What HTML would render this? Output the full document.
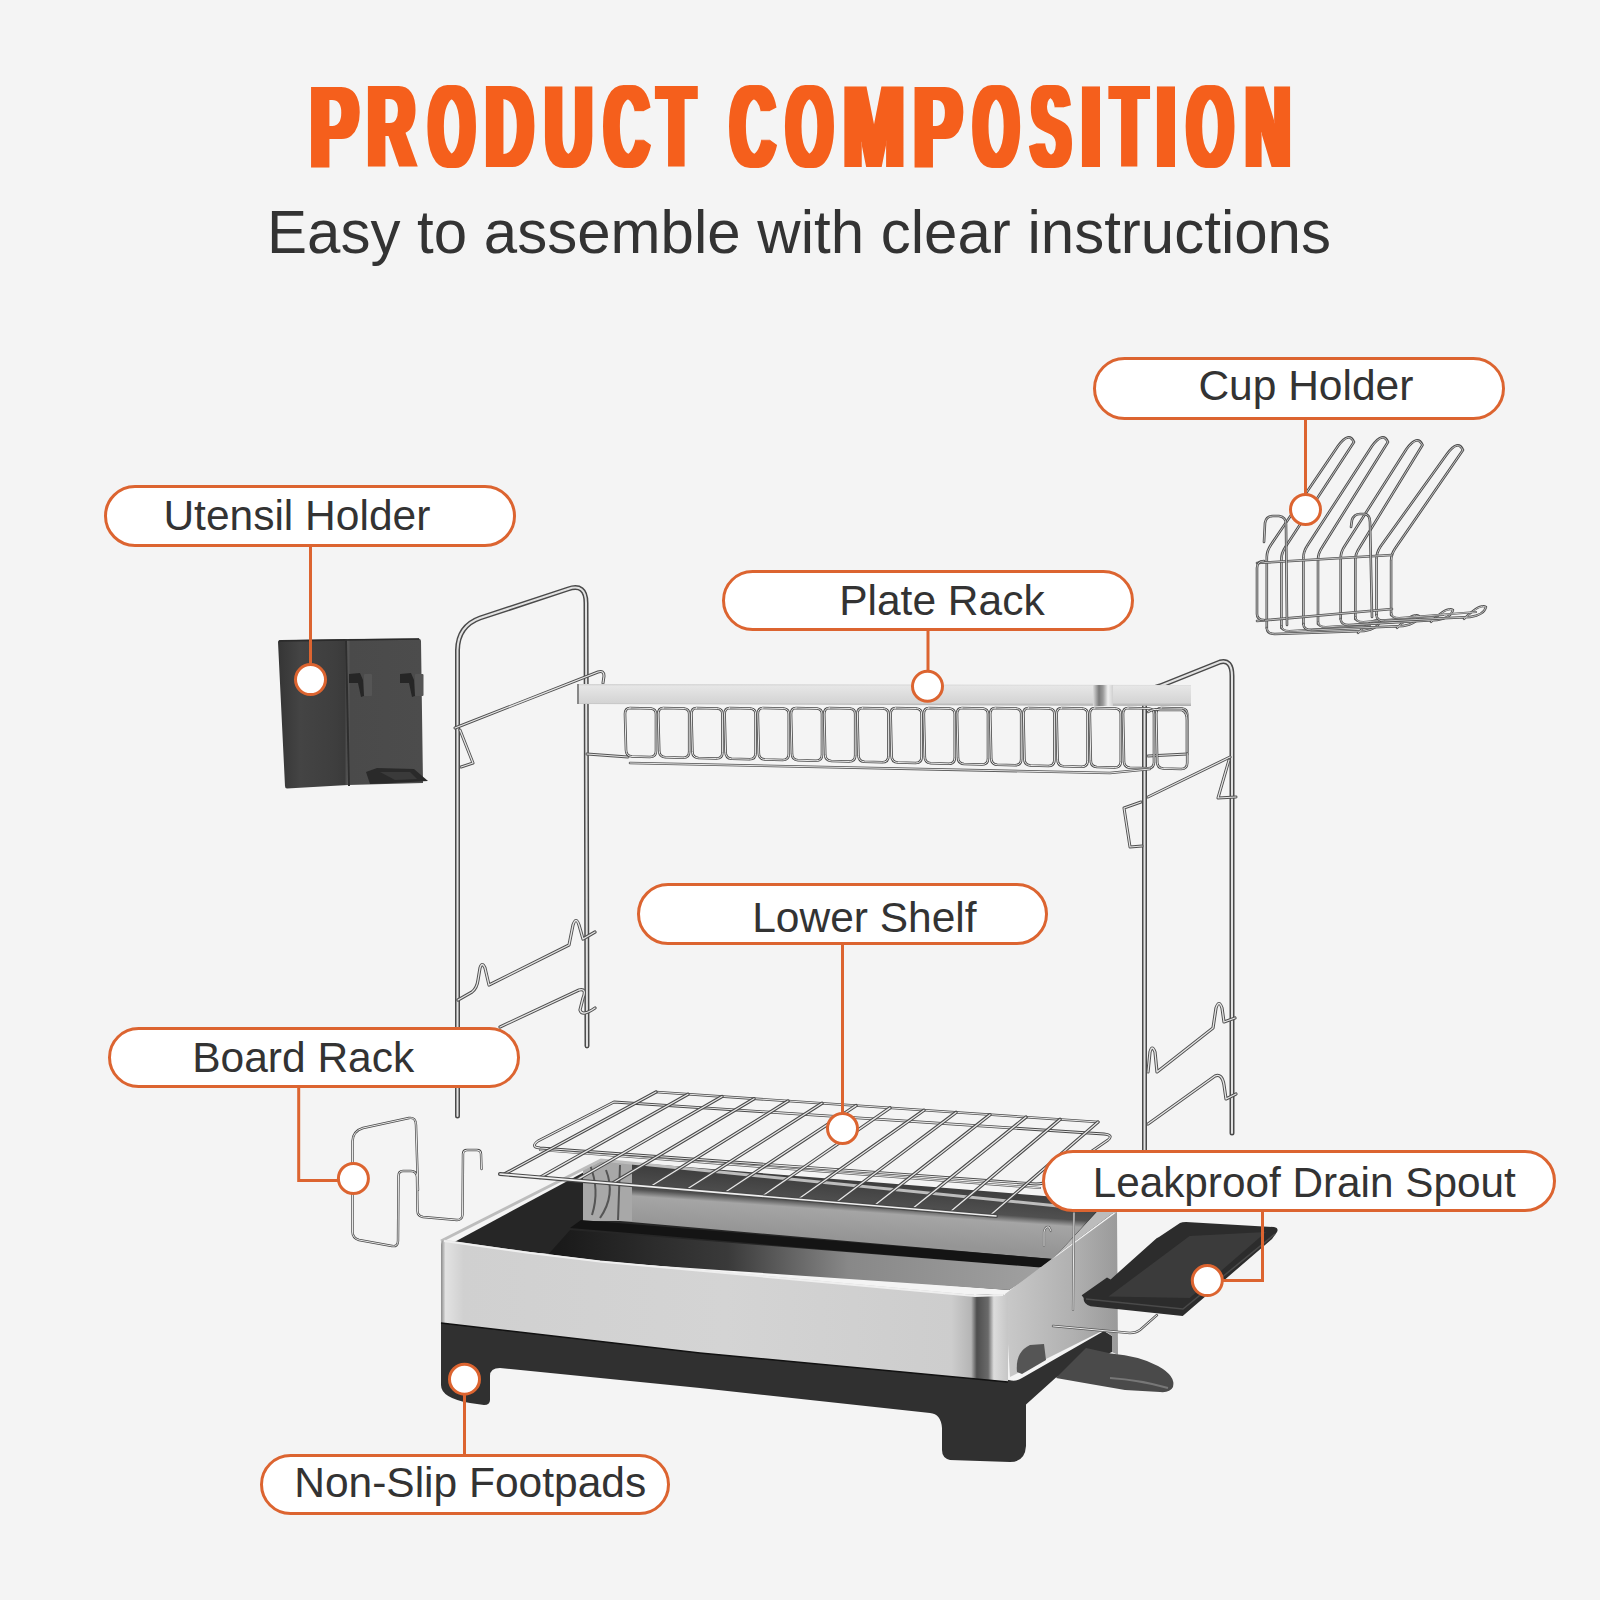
<!DOCTYPE html>
<html><head><meta charset="utf-8">
<style>
html,body{margin:0;padding:0;background:#f4f4f4;}
body{width:1600px;height:1600px;overflow:hidden;}
svg{display:block;}
text{font-family:"Liberation Sans",sans-serif;}
</style></head>
<body>
<svg width="1600" height="1600" viewBox="0 0 1600 1600">
<rect width="1600" height="1600" fill="#f4f4f4"/>
<filter id="dil" x="-20%" y="-5%" width="140%" height="110%"><feMorphology operator="dilate" radius="4 0.3"/></filter>
<g filter="url(#dil)" fill="#f55f1c" font-weight="bold" font-size="116.5">
<text transform="translate(310.19 166.8) scale(0.6168 1)">P</text>
<text transform="translate(367.58 166.8) scale(0.5661 1)">R</text>
<text transform="translate(429.11 166.8) scale(0.5009 1)">O</text>
<text transform="translate(485.58 166.8) scale(0.5666 1)">D</text>
<text transform="translate(545.07 166.8) scale(0.5622 1)">U</text>
<text transform="translate(604.49 166.8) scale(0.5258 1)">C</text>
<text transform="translate(658.35 166.8) scale(0.5080 1)">T</text>
<text transform="translate(730.49 166.8) scale(0.5258 1)">C</text>
<text transform="translate(786.58 166.8) scale(0.5071 1)">O</text>
<text transform="translate(843.50 166.8) scale(0.6272 1)">M</text>
<text transform="translate(913.87 166.8) scale(0.6183 1)">P</text>
<text transform="translate(973.64 166.8) scale(0.4947 1)">O</text>
<text transform="translate(1031.30 166.8) scale(0.5024 1)">S</text>
<text transform="translate(1081.31 166.8) scale(0.6003 1)">I</text>
<text transform="translate(1111.77 166.8) scale(0.4905 1)">T</text>
<text transform="translate(1156.31 166.8) scale(0.6003 1)">I</text>
<text transform="translate(1187.19 166.8) scale(0.5046 1)">O</text>
<text transform="translate(1245.45 166.8) scale(0.5323 1)">N</text>
</g>
<text x="267" y="253" font-size="61" fill="#333" textLength="1064" lengthAdjust="spacingAndGlyphs">Easy to assemble with clear instructions</text>
<g id="product">
<defs>
<linearGradient id="steelFront" x1="441" y1="0" x2="1008" y2="0" gradientUnits="userSpaceOnUse">
<stop offset="0" stop-color="#8a8a8a"/>
<stop offset="0.008" stop-color="#e2e2e2"/>
<stop offset="0.04" stop-color="#d0d0d0"/>
<stop offset="0.5" stop-color="#d4d4d4"/>
<stop offset="0.9" stop-color="#cdcdcd"/>
<stop offset="0.935" stop-color="#b5b5b5"/>
<stop offset="0.945" stop-color="#4e4e4e"/>
<stop offset="0.965" stop-color="#6a6a6a"/>
<stop offset="0.975" stop-color="#dcdcdc"/>
<stop offset="1" stop-color="#c6c6c6"/>
</linearGradient>
<linearGradient id="steelRight" x1="1008" y1="0" x2="1118" y2="0" gradientUnits="userSpaceOnUse">
<stop offset="0" stop-color="#c8c8c8"/>
<stop offset="0.6" stop-color="#b0b0b0"/>
<stop offset="1" stop-color="#9a9a9a"/>
</linearGradient>
<linearGradient id="backWall" x1="840" y1="1175" x2="835.6" y2="1238" gradientUnits="userSpaceOnUse">
<stop offset="0" stop-color="#3a3a3a"/>
<stop offset="0.45" stop-color="#505050"/>
<stop offset="0.56" stop-color="#a5a5a5"/>
<stop offset="1" stop-color="#959595"/>
</linearGradient>
<linearGradient id="plate" x1="560" y1="0" x2="1040" y2="0" gradientUnits="userSpaceOnUse">
<stop offset="0" stop-color="#1a1a1a"/>
<stop offset="0.35" stop-color="#3a3a3a"/>
<stop offset="0.6" stop-color="#888"/>
<stop offset="1" stop-color="#a0a0a0"/>
</linearGradient>
<linearGradient id="barG" x1="0" y1="684" x2="0" y2="706" gradientUnits="userSpaceOnUse">
<stop offset="0" stop-color="#cfcfcf"/>
<stop offset="0.1" stop-color="#e6e6e6"/>
<stop offset="0.85" stop-color="#d4d4d4"/>
<stop offset="1" stop-color="#a8a8a8"/>
</linearGradient>
<linearGradient id="utenG" x1="278" y1="0" x2="423" y2="0" gradientUnits="userSpaceOnUse">
<stop offset="0" stop-color="#353535"/>
<stop offset="0.15" stop-color="#444"/>
<stop offset="0.4" stop-color="#3e3e3e"/>
<stop offset="0.46" stop-color="#3a3a3a"/>
<stop offset="0.48" stop-color="#5a5a5a"/>
<stop offset="0.5" stop-color="#4a4a4a"/>
<stop offset="1" stop-color="#4c4c4c"/>
</linearGradient>
<linearGradient id="foldG" x1="1093" y1="0" x2="1113" y2="0" gradientUnits="userSpaceOnUse">
<stop offset="0" stop-color="#dcdcdc"/>
<stop offset="0.3" stop-color="#7a7a7a"/>
<stop offset="0.5" stop-color="#9a9a9a"/>
<stop offset="0.75" stop-color="#f0f0f0"/>
<stop offset="1" stop-color="#d0d0d0"/>
</linearGradient>
</defs>
<path d="M1266.8 628 L1266.8 557.0 Q1266.8 551.0 1270.8 545.0 L1338 446 Q1349 431 1354 442 L1285.3999999999999 547.0 Q1281.3999999999999 553.0 1281.3999999999999 559.0 L1281.3999999999999 628" fill="none" stroke="#4c4c4c" stroke-width="2.6" stroke-linecap="round" stroke-linejoin="round"/>
<path d="M1266.8 628 L1266.8 557.0 Q1266.8 551.0 1270.8 545.0 L1338 446 Q1349 431 1354 442 L1285.3999999999999 547.0 Q1281.3999999999999 553.0 1281.3999999999999 559.0 L1281.3999999999999 628" fill="none" stroke="#c4c4c4" stroke-width="1" stroke-linecap="round" stroke-linejoin="round"/>
<path d="M1266.8 628 Q1266.8 634 1274.8 634 L1364 631 Q1378 629 1380 621 Q1374 617 1358 633" fill="none" stroke="#4f4f4f" stroke-width="2.4" stroke-linecap="round" stroke-linejoin="round"/>
<path d="M1266.8 628 Q1266.8 634 1274.8 634 L1364 631 Q1378 629 1380 621 Q1374 617 1358 633" fill="none" stroke="#c4c4c4" stroke-width="1" stroke-linecap="round" stroke-linejoin="round"/>
<path d="M1281.3999999999999 626 Q1281.3999999999999 631 1289.3999999999999 631 L1370 626" fill="none" stroke="#555555" stroke-width="2.2" stroke-linecap="round" stroke-linejoin="round"/>
<path d="M1281.3999999999999 626 Q1281.3999999999999 631 1289.3999999999999 631 L1370 626" fill="none" stroke="#c4c4c4" stroke-width="1" stroke-linecap="round" stroke-linejoin="round"/>
<path d="M1303.4 624 L1303.4 557.5 Q1303.4 551.5 1307.4 545.5 L1372 446 Q1383 431 1388 442 L1322.0 547.5 Q1318.0 553.5 1318.0 559.5 L1318.0 624" fill="none" stroke="#4c4c4c" stroke-width="2.6" stroke-linecap="round" stroke-linejoin="round"/>
<path d="M1303.4 624 L1303.4 557.5 Q1303.4 551.5 1307.4 545.5 L1372 446 Q1383 431 1388 442 L1322.0 547.5 Q1318.0 553.5 1318.0 559.5 L1318.0 624" fill="none" stroke="#c4c4c4" stroke-width="1" stroke-linecap="round" stroke-linejoin="round"/>
<path d="M1303.4 624 Q1303.4 630 1311.4 630 L1403 626 Q1417 624 1419 616 Q1413 612 1397 628" fill="none" stroke="#4f4f4f" stroke-width="2.4" stroke-linecap="round" stroke-linejoin="round"/>
<path d="M1303.4 624 Q1303.4 630 1311.4 630 L1403 626 Q1417 624 1419 616 Q1413 612 1397 628" fill="none" stroke="#c4c4c4" stroke-width="1" stroke-linecap="round" stroke-linejoin="round"/>
<path d="M1318.0 622 Q1318.0 627 1326.0 627 L1409 621" fill="none" stroke="#555555" stroke-width="2.2" stroke-linecap="round" stroke-linejoin="round"/>
<path d="M1318.0 622 Q1318.0 627 1326.0 627 L1409 621" fill="none" stroke="#c4c4c4" stroke-width="1" stroke-linecap="round" stroke-linejoin="round"/>
<path d="M1340.7 619 L1340.7 558.0 Q1340.7 552.0 1344.7 546.0 L1406.5 449 Q1417.5 434 1422.5 445 L1359.3 548.0 Q1355.3 554.0 1355.3 560.0 L1355.3 619" fill="none" stroke="#4c4c4c" stroke-width="2.6" stroke-linecap="round" stroke-linejoin="round"/>
<path d="M1340.7 619 L1340.7 558.0 Q1340.7 552.0 1344.7 546.0 L1406.5 449 Q1417.5 434 1422.5 445 L1359.3 548.0 Q1355.3 554.0 1355.3 560.0 L1355.3 619" fill="none" stroke="#c4c4c4" stroke-width="1" stroke-linecap="round" stroke-linejoin="round"/>
<path d="M1340.7 619 Q1340.7 625 1348.7 625 L1437 620 Q1451 618 1453 610 Q1447 606 1431 622" fill="none" stroke="#4f4f4f" stroke-width="2.4" stroke-linecap="round" stroke-linejoin="round"/>
<path d="M1340.7 619 Q1340.7 625 1348.7 625 L1437 620 Q1451 618 1453 610 Q1447 606 1431 622" fill="none" stroke="#c4c4c4" stroke-width="1" stroke-linecap="round" stroke-linejoin="round"/>
<path d="M1355.3 617 Q1355.3 622 1363.3 622 L1443 615" fill="none" stroke="#555555" stroke-width="2.2" stroke-linecap="round" stroke-linejoin="round"/>
<path d="M1355.3 617 Q1355.3 622 1363.3 622 L1443 615" fill="none" stroke="#c4c4c4" stroke-width="1" stroke-linecap="round" stroke-linejoin="round"/>
<path d="M1376.5 615 L1376.5 558.5 Q1376.5 552.5 1380.5 546.5 L1447 454 Q1458 439 1463 450 L1395.1 548.5 Q1391.1 554.5 1391.1 560.5 L1391.1 615" fill="none" stroke="#4c4c4c" stroke-width="2.6" stroke-linecap="round" stroke-linejoin="round"/>
<path d="M1376.5 615 L1376.5 558.5 Q1376.5 552.5 1380.5 546.5 L1447 454 Q1458 439 1463 450 L1395.1 548.5 Q1391.1 554.5 1391.1 560.5 L1391.1 615" fill="none" stroke="#c4c4c4" stroke-width="1" stroke-linecap="round" stroke-linejoin="round"/>
<path d="M1376.5 615 Q1376.5 621 1384.5 621 L1470 617 Q1484 615 1486 607 Q1480 603 1464 619" fill="none" stroke="#4f4f4f" stroke-width="2.4" stroke-linecap="round" stroke-linejoin="round"/>
<path d="M1376.5 615 Q1376.5 621 1384.5 621 L1470 617 Q1484 615 1486 607 Q1480 603 1464 619" fill="none" stroke="#c4c4c4" stroke-width="1" stroke-linecap="round" stroke-linejoin="round"/>
<path d="M1391.1 613 Q1391.1 618 1399.1 618 L1476 612" fill="none" stroke="#555555" stroke-width="2.2" stroke-linecap="round" stroke-linejoin="round"/>
<path d="M1391.1 613 Q1391.1 618 1399.1 618 L1476 612" fill="none" stroke="#c4c4c4" stroke-width="1" stroke-linecap="round" stroke-linejoin="round"/>
<path d="M1257 563 L1392 555" fill="none" stroke="#575757" stroke-width="2.6" stroke-linecap="round" stroke-linejoin="round"/>
<path d="M1257 563 L1392 555" fill="none" stroke="#c4c4c4" stroke-width="1" stroke-linecap="round" stroke-linejoin="round"/>
<path d="M1257 621 L1392 609" fill="none" stroke="#575757" stroke-width="2.6" stroke-linecap="round" stroke-linejoin="round"/>
<path d="M1257 621 L1392 609" fill="none" stroke="#c4c4c4" stroke-width="1" stroke-linecap="round" stroke-linejoin="round"/>
<path d="M1264 542 L1265 523 Q1266 516 1273 516 L1279 516 Q1286 517 1286 524 L1287 625" fill="none" stroke="#494949" stroke-width="2.6" stroke-linecap="round" stroke-linejoin="round"/>
<path d="M1264 542 L1265 523 Q1266 516 1273 516 L1279 516 Q1286 517 1286 524 L1287 625" fill="none" stroke="#c4c4c4" stroke-width="1" stroke-linecap="round" stroke-linejoin="round"/>
<path d="M1351 527 L1352 520 Q1354 514 1360 514 L1365 514 Q1370 515 1370 522 L1372 617" fill="none" stroke="#494949" stroke-width="2.6" stroke-linecap="round" stroke-linejoin="round"/>
<path d="M1351 527 L1352 520 Q1354 514 1360 514 L1365 514 Q1370 515 1370 522 L1372 617" fill="none" stroke="#c4c4c4" stroke-width="1" stroke-linecap="round" stroke-linejoin="round"/>
<path d="M1264 561 Q1257 561 1257 568 L1257 614 Q1257 620 1264 620" fill="none" stroke="#494949" stroke-width="2.6" stroke-linecap="round" stroke-linejoin="round"/>
<path d="M1264 561 Q1257 561 1257 568 L1257 614 Q1257 620 1264 620" fill="none" stroke="#c4c4c4" stroke-width="1" stroke-linecap="round" stroke-linejoin="round"/>
<path d="M278 642 Q278 640 281 640 L345 639 L419 638.5 Q421 639 421 641 L423 783 L348 785 L287 788.5 Q285 788.5 285 786 Z" fill="url(#utenG)"/>
<path d="M279 641 L345 640 L419 639" stroke="#2a2a2a" stroke-width="1.5" fill="none"/>
<path d="M346 640 L349 786" stroke="#2e2e2e" stroke-width="2" fill="none"/>
<path d="M349 674 L360 673 L363 680 L364 696 L361 697 L358 683 L349 683 Z" fill="#262626"/>
<rect x="364" y="674" width="8" height="22" rx="1" fill="#555"/>
<path d="M400 674 L411 673 L414 680 L415 696 L412 697 L409 683 L400 683 Z" fill="#262626"/>
<rect x="415" y="674" width="8.5" height="22" rx="1" fill="#555"/>
<path d="M366 772 L377 768 L414 769 L428 781 L392 783 L370 784 Z" fill="#2a2a2a"/>
<path d="M380 772 L410 772 L417 779 L395 780 Z" fill="#3a3a3a"/>
<path d="M457.5 1116 L457.5 650 Q458 626 480 618 L568 589 Q586 583 586 603 L587 1046" fill="none" stroke="#4a4a4a" stroke-width="5" stroke-linecap="round" stroke-linejoin="round"/>
<path d="M457.5 1116 L457.5 650 Q458 626 480 618 L568 589 Q586 583 586 603 L587 1046" fill="none" stroke="#e2e2e2" stroke-width="2" stroke-linecap="round" stroke-linejoin="round"/>
<path d="M1144.5 1165 L1144.5 702 Q1145 690 1160 686 L1220 662 Q1232 659 1232 676 L1232 1133" fill="none" stroke="#4a4a4a" stroke-width="5" stroke-linecap="round" stroke-linejoin="round"/>
<path d="M1144.5 1165 L1144.5 702 Q1145 690 1160 686 L1220 662 Q1232 659 1232 676 L1232 1133" fill="none" stroke="#e2e2e2" stroke-width="2" stroke-linecap="round" stroke-linejoin="round"/>
<path d="M455 728 L598 672 Q604 670 604 676 L603 683" fill="none" stroke="#505050" stroke-width="3" stroke-linecap="round" stroke-linejoin="round"/>
<path d="M455 728 L598 672 Q604 670 604 676 L603 683" fill="none" stroke="#e6e6e6" stroke-width="1.2" stroke-linecap="round" stroke-linejoin="round"/>
<path d="M460 730 L473 763 L461 767" fill="none" stroke="#505050" stroke-width="3" stroke-linecap="round" stroke-linejoin="round"/>
<path d="M460 730 L473 763 L461 767" fill="none" stroke="#e6e6e6" stroke-width="1.2" stroke-linecap="round" stroke-linejoin="round"/>
<path d="M458 1000 L472 992 Q477 988 478 980 L480 968 Q482 961 485 968 L489 985 L569 945 L573 925 Q576 916 579 925 L583 939 L595 932" fill="none" stroke="#505050" stroke-width="3.2" stroke-linecap="round" stroke-linejoin="round"/>
<path d="M458 1000 L472 992 Q477 988 478 980 L480 968 Q482 961 485 968 L489 985 L569 945 L573 925 Q576 916 579 925 L583 939 L595 932" fill="none" stroke="#e6e6e6" stroke-width="1.3" stroke-linecap="round" stroke-linejoin="round"/>
<path d="M500 1027 L579 990 Q587 988 583 998 L580 1010 Q582 1017 595 1008" fill="none" stroke="#505050" stroke-width="3.2" stroke-linecap="round" stroke-linejoin="round"/>
<path d="M500 1027 L579 990 Q587 988 583 998 L580 1010 Q582 1017 595 1008" fill="none" stroke="#e6e6e6" stroke-width="1.3" stroke-linecap="round" stroke-linejoin="round"/>
<path d="M1148 797 L1230 757" fill="none" stroke="#505050" stroke-width="3" stroke-linecap="round" stroke-linejoin="round"/>
<path d="M1148 797 L1230 757" fill="none" stroke="#e6e6e6" stroke-width="1.2" stroke-linecap="round" stroke-linejoin="round"/>
<path d="M1229 760 L1218 798 L1236 797" fill="none" stroke="#505050" stroke-width="3" stroke-linecap="round" stroke-linejoin="round"/>
<path d="M1229 760 L1218 798 L1236 797" fill="none" stroke="#e6e6e6" stroke-width="1.2" stroke-linecap="round" stroke-linejoin="round"/>
<path d="M1141 802 L1124 808 L1130 847 L1142 846" fill="none" stroke="#505050" stroke-width="3" stroke-linecap="round" stroke-linejoin="round"/>
<path d="M1141 802 L1124 808 L1130 847 L1142 846" fill="none" stroke="#e6e6e6" stroke-width="1.2" stroke-linecap="round" stroke-linejoin="round"/>
<path d="M1148 1072 L1150 1052 Q1152 1044 1155 1052 L1157 1072 L1213 1028 L1216 1008 Q1219 999 1222 1008 L1224 1022 L1235 1018" fill="none" stroke="#505050" stroke-width="3.2" stroke-linecap="round" stroke-linejoin="round"/>
<path d="M1148 1072 L1150 1052 Q1152 1044 1155 1052 L1157 1072 L1213 1028 L1216 1008 Q1219 999 1222 1008 L1224 1022 L1235 1018" fill="none" stroke="#e6e6e6" stroke-width="1.3" stroke-linecap="round" stroke-linejoin="round"/>
<path d="M1148 1124 L1215 1076 Q1222 1073 1224 1085 L1226 1099 L1236 1094" fill="none" stroke="#505050" stroke-width="3.2" stroke-linecap="round" stroke-linejoin="round"/>
<path d="M1148 1124 L1215 1076 Q1222 1073 1224 1085 L1226 1099 L1236 1094" fill="none" stroke="#e6e6e6" stroke-width="1.3" stroke-linecap="round" stroke-linejoin="round"/>
<path d="M587 754 L628 757" fill="none" stroke="#555555" stroke-width="3" stroke-linecap="round" stroke-linejoin="round"/>
<path d="M587 754 L628 757" fill="none" stroke="#e6e6e6" stroke-width="1.2" stroke-linecap="round" stroke-linejoin="round"/>
<path d="M1148 756 L1187 754" fill="none" stroke="#555555" stroke-width="3" stroke-linecap="round" stroke-linejoin="round"/>
<path d="M1148 756 L1187 754" fill="none" stroke="#e6e6e6" stroke-width="1.2" stroke-linecap="round" stroke-linejoin="round"/>
<path d="M630.0 708 L651.0 708.5 Q656.0 709 656.0 714 L656.0 751.0 Q656.0 757.0 650.0 757.0 L632.0 756.5 Q626.0 756.0 626.0 750.0 L625.0 714 Q625.0 708 630.0 708 Z" fill="none" stroke="#494949" stroke-width="2.6" stroke-linecap="round" stroke-linejoin="round"/>
<path d="M630.0 708 L651.0 708.5 Q656.0 709 656.0 714 L656.0 751.0 Q656.0 757.0 650.0 757.0 L632.0 756.5 Q626.0 756.0 626.0 750.0 L625.0 714 Q625.0 708 630.0 708 Z" fill="none" stroke="#ececec" stroke-width="1" stroke-linecap="round" stroke-linejoin="round"/>
<path d="M663.2 708 L684.2 708.5 Q689.2 709 689.2 714 L689.2 751.8 Q689.2 757.8 683.2 757.8 L665.2 757.2 Q659.2 756.8 659.2 750.8 L658.2 714 Q658.2 708 663.2 708 Z" fill="none" stroke="#494949" stroke-width="2.6" stroke-linecap="round" stroke-linejoin="round"/>
<path d="M663.2 708 L684.2 708.5 Q689.2 709 689.2 714 L689.2 751.8 Q689.2 757.8 683.2 757.8 L665.2 757.2 Q659.2 756.8 659.2 750.8 L658.2 714 Q658.2 708 663.2 708 Z" fill="none" stroke="#ececec" stroke-width="1" stroke-linecap="round" stroke-linejoin="round"/>
<path d="M696.4 708 L717.4 708.5 Q722.4 709 722.4 714 L722.4 752.5 Q722.4 758.5 716.4 758.5 L698.4 758.0 Q692.4 757.5 692.4 751.5 L691.4 714 Q691.4 708 696.4 708 Z" fill="none" stroke="#494949" stroke-width="2.6" stroke-linecap="round" stroke-linejoin="round"/>
<path d="M696.4 708 L717.4 708.5 Q722.4 709 722.4 714 L722.4 752.5 Q722.4 758.5 716.4 758.5 L698.4 758.0 Q692.4 757.5 692.4 751.5 L691.4 714 Q691.4 708 696.4 708 Z" fill="none" stroke="#ececec" stroke-width="1" stroke-linecap="round" stroke-linejoin="round"/>
<path d="M729.6 708 L750.6 708.5 Q755.6 709 755.6 714 L755.6 753.2 Q755.6 759.2 749.6 759.2 L731.6 758.8 Q725.6 758.2 725.6 752.2 L724.6 714 Q724.6 708 729.6 708 Z" fill="none" stroke="#494949" stroke-width="2.6" stroke-linecap="round" stroke-linejoin="round"/>
<path d="M729.6 708 L750.6 708.5 Q755.6 709 755.6 714 L755.6 753.2 Q755.6 759.2 749.6 759.2 L731.6 758.8 Q725.6 758.2 725.6 752.2 L724.6 714 Q724.6 708 729.6 708 Z" fill="none" stroke="#ececec" stroke-width="1" stroke-linecap="round" stroke-linejoin="round"/>
<path d="M762.8 708 L783.8 708.5 Q788.8 709 788.8 714 L788.8 754.0 Q788.8 760.0 782.8 760.0 L764.8 759.5 Q758.8 759.0 758.8 753.0 L757.8 714 Q757.8 708 762.8 708 Z" fill="none" stroke="#494949" stroke-width="2.6" stroke-linecap="round" stroke-linejoin="round"/>
<path d="M762.8 708 L783.8 708.5 Q788.8 709 788.8 714 L788.8 754.0 Q788.8 760.0 782.8 760.0 L764.8 759.5 Q758.8 759.0 758.8 753.0 L757.8 714 Q757.8 708 762.8 708 Z" fill="none" stroke="#ececec" stroke-width="1" stroke-linecap="round" stroke-linejoin="round"/>
<path d="M796.0 708 L817.0 708.5 Q822.0 709 822.0 714 L822.0 754.8 Q822.0 760.8 816.0 760.8 L798.0 760.2 Q792.0 759.8 792.0 753.8 L791.0 714 Q791.0 708 796.0 708 Z" fill="none" stroke="#494949" stroke-width="2.6" stroke-linecap="round" stroke-linejoin="round"/>
<path d="M796.0 708 L817.0 708.5 Q822.0 709 822.0 714 L822.0 754.8 Q822.0 760.8 816.0 760.8 L798.0 760.2 Q792.0 759.8 792.0 753.8 L791.0 714 Q791.0 708 796.0 708 Z" fill="none" stroke="#ececec" stroke-width="1" stroke-linecap="round" stroke-linejoin="round"/>
<path d="M829.2 708 L850.2 708.5 Q855.2 709 855.2 714 L855.2 755.5 Q855.2 761.5 849.2 761.5 L831.2 761.0 Q825.2 760.5 825.2 754.5 L824.2 714 Q824.2 708 829.2 708 Z" fill="none" stroke="#494949" stroke-width="2.6" stroke-linecap="round" stroke-linejoin="round"/>
<path d="M829.2 708 L850.2 708.5 Q855.2 709 855.2 714 L855.2 755.5 Q855.2 761.5 849.2 761.5 L831.2 761.0 Q825.2 760.5 825.2 754.5 L824.2 714 Q824.2 708 829.2 708 Z" fill="none" stroke="#ececec" stroke-width="1" stroke-linecap="round" stroke-linejoin="round"/>
<path d="M862.4 708 L883.4 708.5 Q888.4 709 888.4 714 L888.4 756.2 Q888.4 762.2 882.4 762.2 L864.4 761.8 Q858.4 761.2 858.4 755.2 L857.4 714 Q857.4 708 862.4 708 Z" fill="none" stroke="#494949" stroke-width="2.6" stroke-linecap="round" stroke-linejoin="round"/>
<path d="M862.4 708 L883.4 708.5 Q888.4 709 888.4 714 L888.4 756.2 Q888.4 762.2 882.4 762.2 L864.4 761.8 Q858.4 761.2 858.4 755.2 L857.4 714 Q857.4 708 862.4 708 Z" fill="none" stroke="#ececec" stroke-width="1" stroke-linecap="round" stroke-linejoin="round"/>
<path d="M895.6 708 L916.6 708.5 Q921.6 709 921.6 714 L921.6 757.0 Q921.6 763.0 915.6 763.0 L897.6 762.5 Q891.6 762.0 891.6 756.0 L890.6 714 Q890.6 708 895.6 708 Z" fill="none" stroke="#494949" stroke-width="2.6" stroke-linecap="round" stroke-linejoin="round"/>
<path d="M895.6 708 L916.6 708.5 Q921.6 709 921.6 714 L921.6 757.0 Q921.6 763.0 915.6 763.0 L897.6 762.5 Q891.6 762.0 891.6 756.0 L890.6 714 Q890.6 708 895.6 708 Z" fill="none" stroke="#ececec" stroke-width="1" stroke-linecap="round" stroke-linejoin="round"/>
<path d="M928.8 708 L949.8 708.5 Q954.8 709 954.8 714 L954.8 757.8 Q954.8 763.8 948.8 763.8 L930.8 763.2 Q924.8 762.8 924.8 756.8 L923.8 714 Q923.8 708 928.8 708 Z" fill="none" stroke="#494949" stroke-width="2.6" stroke-linecap="round" stroke-linejoin="round"/>
<path d="M928.8 708 L949.8 708.5 Q954.8 709 954.8 714 L954.8 757.8 Q954.8 763.8 948.8 763.8 L930.8 763.2 Q924.8 762.8 924.8 756.8 L923.8 714 Q923.8 708 928.8 708 Z" fill="none" stroke="#ececec" stroke-width="1" stroke-linecap="round" stroke-linejoin="round"/>
<path d="M962.0 708 L983.0 708.5 Q988.0 709 988.0 714 L988.0 758.5 Q988.0 764.5 982.0 764.5 L964.0 764.0 Q958.0 763.5 958.0 757.5 L957.0 714 Q957.0 708 962.0 708 Z" fill="none" stroke="#494949" stroke-width="2.6" stroke-linecap="round" stroke-linejoin="round"/>
<path d="M962.0 708 L983.0 708.5 Q988.0 709 988.0 714 L988.0 758.5 Q988.0 764.5 982.0 764.5 L964.0 764.0 Q958.0 763.5 958.0 757.5 L957.0 714 Q957.0 708 962.0 708 Z" fill="none" stroke="#ececec" stroke-width="1" stroke-linecap="round" stroke-linejoin="round"/>
<path d="M995.2 708 L1016.2 708.5 Q1021.2 709 1021.2 714 L1021.2 759.2 Q1021.2 765.2 1015.2 765.2 L997.2 764.8 Q991.2 764.2 991.2 758.2 L990.2 714 Q990.2 708 995.2 708 Z" fill="none" stroke="#494949" stroke-width="2.6" stroke-linecap="round" stroke-linejoin="round"/>
<path d="M995.2 708 L1016.2 708.5 Q1021.2 709 1021.2 714 L1021.2 759.2 Q1021.2 765.2 1015.2 765.2 L997.2 764.8 Q991.2 764.2 991.2 758.2 L990.2 714 Q990.2 708 995.2 708 Z" fill="none" stroke="#ececec" stroke-width="1" stroke-linecap="round" stroke-linejoin="round"/>
<path d="M1028.4 708 L1049.4 708.5 Q1054.4 709 1054.4 714 L1054.4 760.0 Q1054.4 766.0 1048.4 766.0 L1030.4 765.5 Q1024.4 765.0 1024.4 759.0 L1023.4 714 Q1023.4 708 1028.4 708 Z" fill="none" stroke="#494949" stroke-width="2.6" stroke-linecap="round" stroke-linejoin="round"/>
<path d="M1028.4 708 L1049.4 708.5 Q1054.4 709 1054.4 714 L1054.4 760.0 Q1054.4 766.0 1048.4 766.0 L1030.4 765.5 Q1024.4 765.0 1024.4 759.0 L1023.4 714 Q1023.4 708 1028.4 708 Z" fill="none" stroke="#ececec" stroke-width="1" stroke-linecap="round" stroke-linejoin="round"/>
<path d="M1061.6 708 L1082.6 708.5 Q1087.6 709 1087.6 714 L1087.6 760.8 Q1087.6 766.8 1081.6 766.8 L1063.6 766.2 Q1057.6 765.8 1057.6 759.8 L1056.6 714 Q1056.6 708 1061.6 708 Z" fill="none" stroke="#494949" stroke-width="2.6" stroke-linecap="round" stroke-linejoin="round"/>
<path d="M1061.6 708 L1082.6 708.5 Q1087.6 709 1087.6 714 L1087.6 760.8 Q1087.6 766.8 1081.6 766.8 L1063.6 766.2 Q1057.6 765.8 1057.6 759.8 L1056.6 714 Q1056.6 708 1061.6 708 Z" fill="none" stroke="#ececec" stroke-width="1" stroke-linecap="round" stroke-linejoin="round"/>
<path d="M1094.8 708 L1115.8 708.5 Q1120.8 709 1120.8 714 L1120.8 761.5 Q1120.8 767.5 1114.8 767.5 L1096.8 767.0 Q1090.8 766.5 1090.8 760.5 L1089.8 714 Q1089.8 708 1094.8 708 Z" fill="none" stroke="#494949" stroke-width="2.6" stroke-linecap="round" stroke-linejoin="round"/>
<path d="M1094.8 708 L1115.8 708.5 Q1120.8 709 1120.8 714 L1120.8 761.5 Q1120.8 767.5 1114.8 767.5 L1096.8 767.0 Q1090.8 766.5 1090.8 760.5 L1089.8 714 Q1089.8 708 1094.8 708 Z" fill="none" stroke="#ececec" stroke-width="1" stroke-linecap="round" stroke-linejoin="round"/>
<path d="M1128.0 708 L1149.0 708.5 Q1154.0 709 1154.0 714 L1154.0 762.2 Q1154.0 768.2 1148.0 768.2 L1130.0 767.8 Q1124.0 767.2 1124.0 761.2 L1123.0 714 Q1123.0 708 1128.0 708 Z" fill="none" stroke="#494949" stroke-width="2.6" stroke-linecap="round" stroke-linejoin="round"/>
<path d="M1128.0 708 L1149.0 708.5 Q1154.0 709 1154.0 714 L1154.0 762.2 Q1154.0 768.2 1148.0 768.2 L1130.0 767.8 Q1124.0 767.2 1124.0 761.2 L1123.0 714 Q1123.0 708 1128.0 708 Z" fill="none" stroke="#ececec" stroke-width="1" stroke-linecap="round" stroke-linejoin="round"/>
<path d="M1161.2 708 L1182.2 708.5 Q1187.2 709 1187.2 714 L1187.2 763.0 Q1187.2 769.0 1181.2 769.0 L1163.2 768.5 Q1157.2 768.0 1157.2 762.0 L1156.2 714 Q1156.2 708 1161.2 708 Z" fill="none" stroke="#494949" stroke-width="2.6" stroke-linecap="round" stroke-linejoin="round"/>
<path d="M1161.2 708 L1182.2 708.5 Q1187.2 709 1187.2 714 L1187.2 763.0 Q1187.2 769.0 1181.2 769.0 L1163.2 768.5 Q1157.2 768.0 1157.2 762.0 L1156.2 714 Q1156.2 708 1161.2 708 Z" fill="none" stroke="#ececec" stroke-width="1" stroke-linecap="round" stroke-linejoin="round"/>
<path d="M630 763 L1110 773 L1150 769" fill="none" stroke="#555555" stroke-width="2.6" stroke-linecap="round" stroke-linejoin="round"/>
<path d="M630 763 L1110 773 L1150 769" fill="none" stroke="#e6e6e6" stroke-width="1" stroke-linecap="round" stroke-linejoin="round"/>
<path d="M1148 712 Q1154 708 1160 710 L1182 710 Q1187 712 1187 720 L1187 752" fill="none" stroke="#4d4d4d" stroke-width="2.6" stroke-linecap="round" stroke-linejoin="round"/>
<path d="M1148 712 Q1154 708 1160 710 L1182 710 Q1187 712 1187 720 L1187 752" fill="none" stroke="#ececec" stroke-width="1" stroke-linecap="round" stroke-linejoin="round"/>
<path d="M578 684 L1191 685 L1191 706 L578 704 Z" fill="url(#barG)"/>
<rect x="1093" y="685" width="20" height="21" fill="url(#foldG)"/>
<path d="M578 684 L578 704" stroke="#888" stroke-width="2"/>
<path d="M481.5 1169 L481 1154 Q481 1150 477 1150 L467 1150 Q463 1150 463 1154 L462.5 1215 Q462 1220 457 1220 L423 1217 Q417.5 1216 417.5 1211 L417 1177 Q416.5 1171 411 1171 L403 1171 Q398.5 1171 398.5 1176 L398 1241 Q398 1247 392 1246 L359 1240 Q352.5 1238 352.5 1232 L352.5 1141 Q353 1131 363 1128 L409 1118 Q416 1117 416 1125 L418 1190" fill="none" stroke="#4c4c4c" stroke-width="2.4" stroke-linecap="round" stroke-linejoin="round"/>
<path d="M481.5 1169 L481 1154 Q481 1150 477 1150 L467 1150 Q463 1150 463 1154 L462.5 1215 Q462 1220 457 1220 L423 1217 Q417.5 1216 417.5 1211 L417 1177 Q416.5 1171 411 1171 L403 1171 Q398.5 1171 398.5 1176 L398 1241 Q398 1247 392 1246 L359 1240 Q352.5 1238 352.5 1232 L352.5 1141 Q353 1131 363 1128 L409 1118 Q416 1117 416 1125 L418 1190" fill="none" stroke="#e8e8e8" stroke-width="1" stroke-linecap="round" stroke-linejoin="round"/>
<path d="M447 1246 L601 1163 L1113 1213 L1009 1290 Z" fill="#262626"/>
<path d="M612 1161 L1106 1201 L1053 1259 L620 1221 Z" fill="url(#backWall)"/>
<path d="M583 1170 L601 1161 L632 1162 L632 1221 L583 1221 Z" fill="#a8a8a8"/>
<path d="M590 1165 Q600 1190 592 1215 M606 1170 Q616 1195 600 1218 M620 1165 L618 1220" stroke="#555" stroke-width="2" fill="none"/>
<path d="M570 1228 L581 1220 L1053 1259 L1046 1268 Z" fill="#141414"/>
<path d="M545 1258 L570 1230 L1046 1268 L1009 1290 Z" fill="url(#plate)"/>
<path d="M1046 1268 L1053 1259 L1106 1202 L1113 1213 L1009 1291 Z" fill="#bcbcbc"/>
<path d="M441 1241 L601 1160 L1117 1212" stroke="#bdbdbd" stroke-width="3" fill="none"/>
<path d="M614 1102 L1104 1134 Q1114 1135 1108 1140 L1050 1180 Q1044 1184 1036 1184 L540 1148 Q530 1147 538 1141 Z" fill="none" stroke="#494949" stroke-width="2.8" stroke-linecap="round" stroke-linejoin="round"/>
<path d="M614 1102 L1104 1134 Q1114 1135 1108 1140 L1050 1180 Q1044 1184 1036 1184 L540 1148 Q530 1147 538 1141 Z" fill="none" stroke="#e8e8e8" stroke-width="1.1" stroke-linecap="round" stroke-linejoin="round"/>
<path d="M540 1150 L1040 1188" fill="none" stroke="#555555" stroke-width="2.2" stroke-linecap="round" stroke-linejoin="round"/>
<path d="M540 1150 L1040 1188" fill="none" stroke="#e8e8e8" stroke-width="1" stroke-linecap="round" stroke-linejoin="round"/>
<path d="M656 1092 L1098 1122" fill="none" stroke="#4d4d4d" stroke-width="2.6" stroke-linecap="round" stroke-linejoin="round"/>
<path d="M656 1092 L1098 1122" fill="none" stroke="#e8e8e8" stroke-width="1" stroke-linecap="round" stroke-linejoin="round"/>
<path d="M504 1174.3 L656 1092.0" fill="none" stroke="#494949" stroke-width="3.4" stroke-linecap="round" stroke-linejoin="round"/>
<path d="M504 1174.3 L656 1092.0" fill="none" stroke="#e8e8e8" stroke-width="1.3" stroke-linecap="round" stroke-linejoin="round"/>
<path d="M540 1177.4 L688 1094.2" fill="none" stroke="#494949" stroke-width="3.4" stroke-linecap="round" stroke-linejoin="round"/>
<path d="M540 1177.4 L688 1094.2" fill="none" stroke="#e8e8e8" stroke-width="1.3" stroke-linecap="round" stroke-linejoin="round"/>
<path d="M576 1180.4 L722 1096.5" fill="none" stroke="#494949" stroke-width="3.4" stroke-linecap="round" stroke-linejoin="round"/>
<path d="M576 1180.4 L722 1096.5" fill="none" stroke="#e8e8e8" stroke-width="1.3" stroke-linecap="round" stroke-linejoin="round"/>
<path d="M612 1183.5 L754 1098.7" fill="none" stroke="#494949" stroke-width="3.4" stroke-linecap="round" stroke-linejoin="round"/>
<path d="M612 1183.5 L754 1098.7" fill="none" stroke="#e8e8e8" stroke-width="1.3" stroke-linecap="round" stroke-linejoin="round"/>
<path d="M650 1186.7 L788 1101.0" fill="none" stroke="#494949" stroke-width="3.4" stroke-linecap="round" stroke-linejoin="round"/>
<path d="M650 1186.7 L788 1101.0" fill="none" stroke="#e8e8e8" stroke-width="1.3" stroke-linecap="round" stroke-linejoin="round"/>
<path d="M686 1189.8 L822 1103.3" fill="none" stroke="#494949" stroke-width="3.4" stroke-linecap="round" stroke-linejoin="round"/>
<path d="M686 1189.8 L822 1103.3" fill="none" stroke="#e8e8e8" stroke-width="1.3" stroke-linecap="round" stroke-linejoin="round"/>
<path d="M724 1193.0 L856 1105.6" fill="none" stroke="#494949" stroke-width="3.4" stroke-linecap="round" stroke-linejoin="round"/>
<path d="M724 1193.0 L856 1105.6" fill="none" stroke="#e8e8e8" stroke-width="1.3" stroke-linecap="round" stroke-linejoin="round"/>
<path d="M762 1196.2 L890 1107.9" fill="none" stroke="#494949" stroke-width="3.4" stroke-linecap="round" stroke-linejoin="round"/>
<path d="M762 1196.2 L890 1107.9" fill="none" stroke="#e8e8e8" stroke-width="1.3" stroke-linecap="round" stroke-linejoin="round"/>
<path d="M798 1199.2 L924 1110.2" fill="none" stroke="#494949" stroke-width="3.4" stroke-linecap="round" stroke-linejoin="round"/>
<path d="M798 1199.2 L924 1110.2" fill="none" stroke="#e8e8e8" stroke-width="1.3" stroke-linecap="round" stroke-linejoin="round"/>
<path d="M836 1202.5 L956 1112.4" fill="none" stroke="#494949" stroke-width="3.4" stroke-linecap="round" stroke-linejoin="round"/>
<path d="M836 1202.5 L956 1112.4" fill="none" stroke="#e8e8e8" stroke-width="1.3" stroke-linecap="round" stroke-linejoin="round"/>
<path d="M874 1205.7 L990 1114.7" fill="none" stroke="#494949" stroke-width="3.4" stroke-linecap="round" stroke-linejoin="round"/>
<path d="M874 1205.7 L990 1114.7" fill="none" stroke="#e8e8e8" stroke-width="1.3" stroke-linecap="round" stroke-linejoin="round"/>
<path d="M912 1208.9 L1026 1117.1" fill="none" stroke="#494949" stroke-width="3.4" stroke-linecap="round" stroke-linejoin="round"/>
<path d="M912 1208.9 L1026 1117.1" fill="none" stroke="#e8e8e8" stroke-width="1.3" stroke-linecap="round" stroke-linejoin="round"/>
<path d="M950 1212.1 L1060 1119.4" fill="none" stroke="#494949" stroke-width="3.4" stroke-linecap="round" stroke-linejoin="round"/>
<path d="M950 1212.1 L1060 1119.4" fill="none" stroke="#e8e8e8" stroke-width="1.3" stroke-linecap="round" stroke-linejoin="round"/>
<path d="M990 1215.5 L1098 1122.0" fill="none" stroke="#494949" stroke-width="3.4" stroke-linecap="round" stroke-linejoin="round"/>
<path d="M990 1215.5 L1098 1122.0" fill="none" stroke="#e8e8e8" stroke-width="1.3" stroke-linecap="round" stroke-linejoin="round"/>
<path d="M500 1174 L996 1216" fill="none" stroke="#494949" stroke-width="4" stroke-linecap="round" stroke-linejoin="round"/>
<path d="M500 1174 L996 1216" fill="none" stroke="#f0f0f0" stroke-width="1.6" stroke-linecap="round" stroke-linejoin="round"/>
<path d="M441 1321 L700 1351 L1009 1380 Q1016 1382 1022 1378 L1104 1331 L1112 1336 L1112 1352 L1056 1377.5 L1026 1404.5 L1026 1446 Q1025 1462 1010 1462 L950 1460 Q942 1458 942 1450 L942 1428 Q941 1414 930 1413 L700 1388 L500 1368 Q490 1368 490 1376 L490 1400 Q490 1405 484 1405 L470 1403 Q441 1398 441 1385 Z" fill="#303030"/>
<path d="M1005 1294 L1117 1212 L1118 1355 L1112 1352 L1112 1336 L1104 1330 L1010 1377 Z" fill="url(#steelRight)"/>
<path d="M1017 1372 Q1015 1352 1030 1345 L1044 1344 L1046 1360 L1022 1374 Z" fill="#555"/>
<path d="M441 1245 Q441 1239 446 1240 L530 1252 L600 1260.7 L975 1295 L1000 1294 Q1008 1294 1008 1300 L1008 1382 L700 1353 L441 1323 Z" fill="url(#steelFront)"/>
<path d="M441 1323 L700 1353 L1008 1382" stroke="#111" stroke-width="1.5" fill="none"/>
<path d="M444 1241 L530 1253 L600 1261.5 L975 1296 L1003 1295" stroke="#efefef" stroke-width="2" fill="none"/>
<path d="M1058 1376 L1086 1348 L1111 1353.5 Q1140 1356 1158 1366 Q1176 1376 1173 1387 Q1170 1393 1160 1392 L1125 1390 Q1090 1384 1056 1378 Z" fill="#4a4a4a"/>
<path d="M1110 1378 Q1140 1380 1168 1388" stroke="#777" stroke-width="2" fill="none"/>
<path d="M1074 1213 L1073 1310" fill="none" stroke="#616161" stroke-width="2.2" stroke-linecap="round" stroke-linejoin="round"/>
<path d="M1074 1213 L1073 1310" fill="none" stroke="#e8e8e8" stroke-width="1" stroke-linecap="round" stroke-linejoin="round"/>
<path d="M1044 1246 L1044 1232 Q1045 1226 1049 1227 L1051 1231" fill="none" stroke="#616161" stroke-width="2.2" stroke-linecap="round" stroke-linejoin="round"/>
<path d="M1044 1246 L1044 1232 Q1045 1226 1049 1227 L1051 1231" fill="none" stroke="#e8e8e8" stroke-width="1" stroke-linecap="round" stroke-linejoin="round"/>
<path d="M1081.7 1295.2 L1107 1277.4 L1110.6 1279.4 L1156.6 1238.2 L1159 1237 L1180 1223 Q1182 1222 1186 1222 L1274 1227 Q1279 1228 1277 1232 L1272 1239 L1182.7 1315.9 L1090.6 1306.2 Q1083 1304 1083.7 1298 Z" fill="#2c2c2c"/>
<path d="M1108.5 1296.6 L1189.6 1236 L1266 1232 L1189.6 1298 Z" fill="#3b3b3b"/>
<path d="M1086 1299 L1183 1309 L1275 1234" stroke="#4a4a4a" stroke-width="1.5" fill="none"/>
<path d="M1053 1326 L1130 1333 Q1136 1333 1140 1330 L1157 1315" fill="none" stroke="#575757" stroke-width="2.4" stroke-linecap="round" stroke-linejoin="round"/>
<path d="M1053 1326 L1130 1333 Q1136 1333 1140 1330 L1157 1315" fill="none" stroke="#ececec" stroke-width="1" stroke-linecap="round" stroke-linejoin="round"/>
</g>
<g fill="#fff" stroke="#dc6430" stroke-width="3">
<rect x="1094.5" y="358.5" width="409" height="60" rx="30"/>
<rect x="105.5" y="486.5" width="409" height="59" rx="29.5"/>
<rect x="723.5" y="571.5" width="409" height="58" rx="29"/>
<rect x="638.5" y="884.5" width="408" height="59" rx="29.5"/>
<rect x="109.5" y="1028.5" width="409" height="58" rx="29"/>
<rect x="1043.5" y="1151.5" width="511" height="59" rx="29.5"/>
<rect x="261.5" y="1455.5" width="407" height="58" rx="29"/>
</g>
<g fill="none" stroke="#dc6430" stroke-width="3">
<path d="M1305.5 420 V494"/>
<path d="M310.5 547 V664"/>
<path d="M928 631 V671"/>
<path d="M842.5 945 V1113"/>
<path d="M298.7 1088 V1180.5 H338"/>
<path d="M1262.5 1212 V1280.5 H1222"/>
<path d="M464.5 1395 V1454"/>
</g>
<g fill="#fff" stroke="#dc6430" stroke-width="3">
<circle cx="1305.5" cy="509.5" r="15"/>
<circle cx="310.5" cy="679.6" r="15"/>
<circle cx="927.5" cy="686.3" r="15"/>
<circle cx="842.5" cy="1128.5" r="15"/>
<circle cx="353.4" cy="1178.5" r="15"/>
<circle cx="1207.3" cy="1280.6" r="15"/>
<circle cx="464.5" cy="1379.2" r="15"/>
</g>
<g font-size="42.5" fill="#333">
<text x="1198.4" y="400">Cup Holder</text>
<text x="163.4" y="529.7">Utensil Holder</text>
<text x="839.2" y="615">Plate Rack</text>
<text x="752.2" y="931.9">Lower Shelf</text>
<text x="192.2" y="1072">Board Rack</text>
<text x="1092.7" y="1196.7" textLength="423" lengthAdjust="spacingAndGlyphs">Leakproof Drain Spout</text>
<text x="294.2" y="1496.6">Non-Slip Footpads</text>
</g>
</svg>
</body></html>
